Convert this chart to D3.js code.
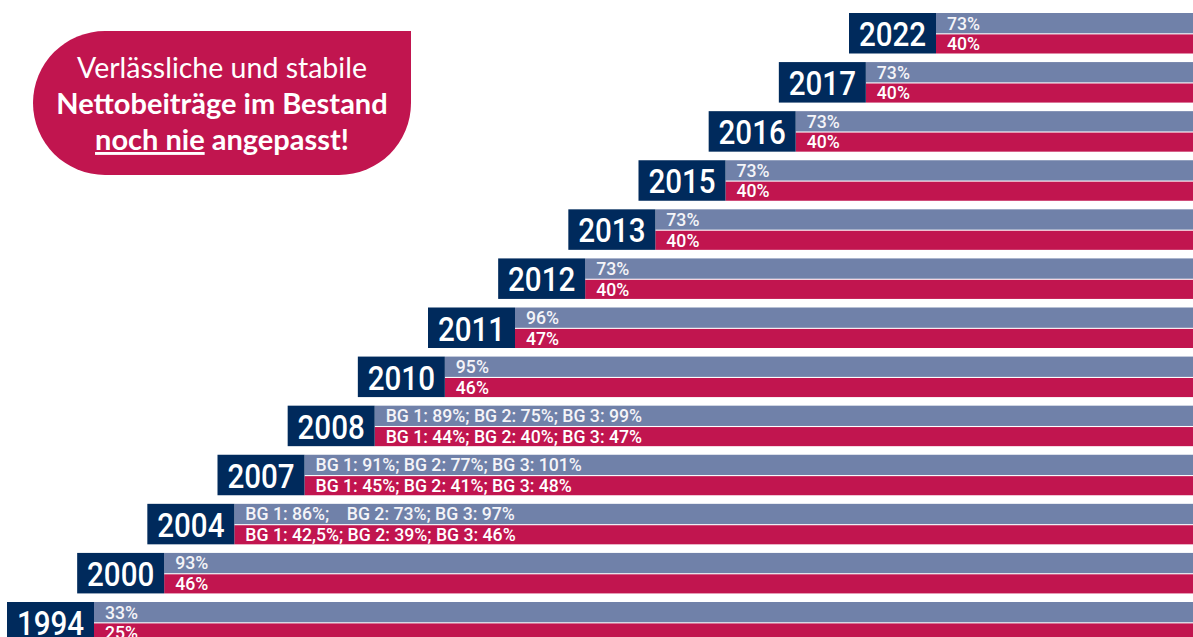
<!DOCTYPE html>
<html><head><meta charset="utf-8">
<script src="https://cdn.jsdelivr.net/npm/d3@7"></script>
<style>
html,body{margin:0;padding:0;background:#fff;overflow:hidden;}
svg{display:block;}
</style></head>
<body>
<script>
const years = ["2022","2017","2016","2015","2013","2012","2011","2010","2008","2007","2004","2000","1994"];
const topLabels = ["73%","73%","73%","73%","73%","73%","96%","95%",
  "BG 1: 89%; BG 2: 75%; BG 3: 99%",
  "BG 1: 91%; BG 2: 77%; BG 3: 101%",
  "BG 1: 86%;    BG 2: 73%; BG 3: 97%",
  "93%","33%"];
const bottomLabels = ["40%","40%","40%","40%","40%","40%","47%","46%",
  "BG 1: 44%; BG 2: 40%; BG 3: 47%",
  "BG 1: 45%; BG 2: 41%; BG 3: 48%",
  "BG 1: 42,5%; BG 2: 39%; BG 3: 46%",
  "46%","25%"];
const calloutLines = ["Verlässliche und stabile","Nettobeiträge im Bestand"];

const W = 1193, H = 637;
const C = {navy:"#002a5c", grey:"#7081a9", red:"#c1154f"};

const svg = d3.select("body").append("svg").attr("width", W).attr("height", H);

const idx = d3.range(years.length);
const y = d3.scaleLinear().domain([0, years.length - 1]).range([13, 602]);
const xBoxRight = d3.scaleLinear().domain([0, years.length - 1]).range([936, 94]);
const boxW = 87, rowH = 40.5, topH = 20.3, gap = 1.1;

const rows = svg.selectAll("g.row").data(idx).join("g").attr("class","row")
  .attr("transform", i => `translate(0,${y(i)})`);

rows.append("rect").attr("x", i => xBoxRight(i)).attr("y", 0)
  .attr("width", i => W - xBoxRight(i)).attr("height", topH).attr("fill", C.grey);
rows.append("rect").attr("x", i => xBoxRight(i)).attr("y", topH + gap)
  .attr("width", i => W - xBoxRight(i)).attr("height", rowH - topH - gap).attr("fill", C.red);
rows.append("rect").attr("x", i => xBoxRight(i) - boxW).attr("y", 0)
  .attr("width", boxW).attr("height", rowH).attr("fill", C.navy);

rows.append("g").attr("transform", i => `translate(${xBoxRight(i) - boxW/2},33) scale(0.87,1)`)
  .append("text").attr("text-anchor","middle")
  .attr("font-family","Roboto, sans-serif").attr("font-weight",500).attr("font-size",34)
  .attr("fill","#fff").text(i => years[i]);

const lab = (dy, arr, fill) => rows.append("g")
  .attr("transform", i => `translate(${xBoxRight(i) + 11},${dy}) scale(0.93,1)`)
  .append("text").attr("font-family","Roboto, sans-serif").attr("font-weight",500)
  .attr("font-size",19).attr("fill",fill).style("white-space","pre").text(i => arr[i]);
lab(16.5, topLabels, "#f4f4f8");
lab(37.2, bottomLabels, "#fff");

// callout
const x0 = 33, x1 = 411, y0 = 31, y1 = 175, r = 72;
const p = d3.path();
p.moveTo(x0 + r, y0); p.lineTo(x1, y0); p.lineTo(x1, y1 - r);
p.arcTo(x1, y1, x1 - r, y1, r); p.lineTo(x0 + r, y1);
p.arcTo(x0, y1, x0, y1 - r, r); p.arcTo(x0, y0, x0 + r, y0, r); p.closePath();
svg.append("path").attr("d", p.toString()).attr("fill", C.red);

const cx = (x0 + x1) / 2;
const ct = svg.append("text").attr("text-anchor","middle").attr("fill","#fff")
  .attr("font-family","Lato, sans-serif").attr("font-size",29);
ct.append("tspan").attr("x", cx).attr("y", 78).attr("font-weight",400).attr("font-size",28.5).text(calloutLines[0]);
ct.append("tspan").attr("x", cx).attr("y", 114).attr("font-weight",700).text(calloutLines[1]);
const l3 = ct.append("tspan").attr("x", cx).attr("y", 150).attr("font-weight",700);
l3.append("tspan").style("text-decoration","underline").text("noch nie");
l3.append("tspan").text(" angepasst!");
</script>
</body></html>
